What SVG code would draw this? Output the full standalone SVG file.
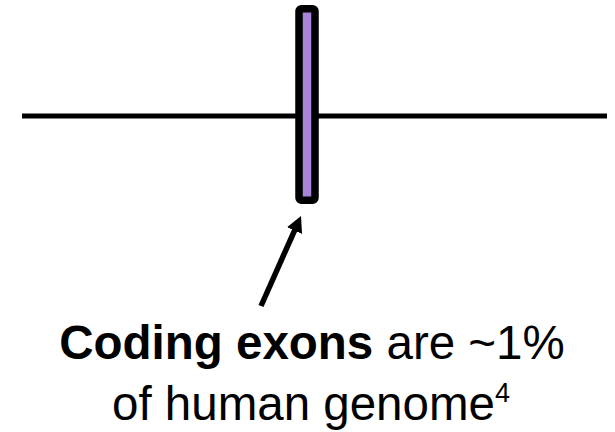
<svg xmlns="http://www.w3.org/2000/svg" width="615" height="432" viewBox="0 0 615 432">
<style>
.t{font-family:"Liberation Sans",Arial,sans-serif;font-size:47.5px;fill:#000;text-anchor:middle}
.b{font-weight:bold}
</style>
<defs>
<marker id="ah" markerWidth="3" markerHeight="3" refX="0.35" refY="1.5" orient="auto" markerUnits="strokeWidth">
<path d="M0,0 L2.9,1.5 L0,3 Z" fill="#000"/>
</marker>
</defs>
<rect width="615" height="432" fill="#fff"/>
<g id="connectors">
<line x1="22" y1="116" x2="607" y2="116" stroke="#000" stroke-width="5"/>
<line x1="261" y1="306" x2="295.3" y2="228.8" stroke="#000" stroke-width="5.5" marker-end="url(#ah)"/>
</g>
<g id="exon">
<rect x="299" y="8.75" width="16" height="191.5" rx="2.5" fill="#A983D8" stroke="#000" stroke-width="7.5"/>
</g>
<g id="label">
<text class="t" x="312" y="359"><tspan class="b">Coding exons</tspan> are ~1%</text>
<text class="t" x="311" y="420">of human genome<tspan font-size="27" dy="-18">4</tspan></text>
</g>
</svg>
